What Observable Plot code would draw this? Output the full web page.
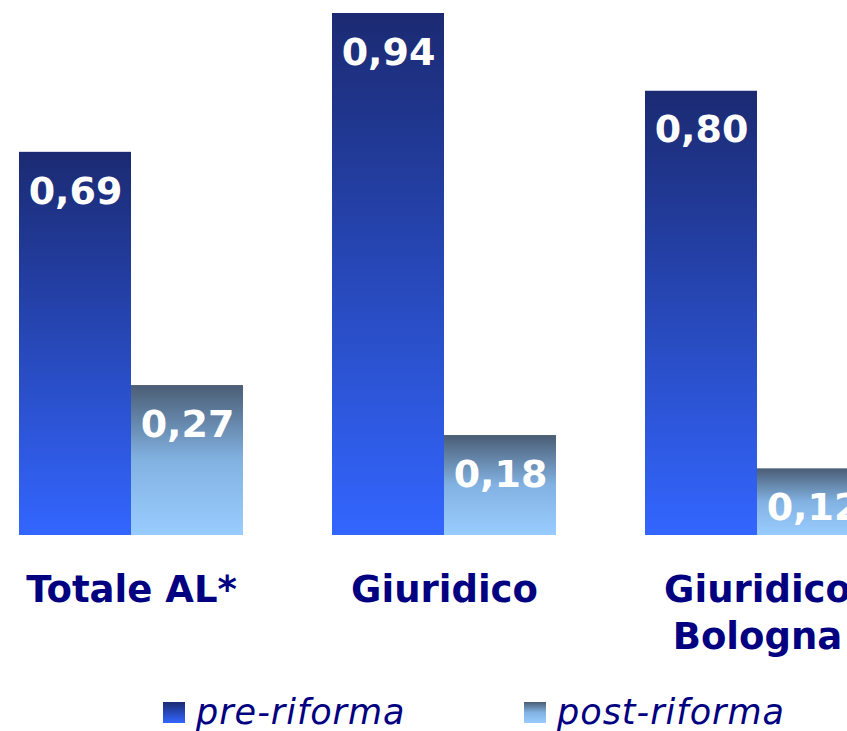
<!DOCTYPE html>
<html><head><meta charset="utf-8">
<script src="https://cdn.jsdelivr.net/npm/d3@7"></script>
<script src="https://cdn.jsdelivr.net/npm/@observablehq/plot@0.6"></script>
<style>
html,body{margin:0;padding:0;background:#fff;overflow:hidden;width:847px;height:731px;}
#chart svg{overflow:hidden;display:block;}
#legend{position:relative;height:61px;font-family:"DejaVu Sans",Verdana,sans-serif;font-style:italic;font-size:35px;letter-spacing:1px;color:#000080;}
.item{position:absolute;top:0;display:flex;align-items:center;height:40px;}
.sw{width:22px;height:21px;margin-right:11px;}
</style></head><body>
<div id="chart"></div>
<div id="legend"></div>
<script>
const categories = ["Totale AL*", "Giuridico", "Giuridico\nBologna"];
const seriesNames = ["pre-riforma", "post-riforma"];
const preValues = [0.69, 0.94, 0.80];
const postValues = [0.27, 0.18, 0.12];

const data = [];
categories.forEach((c, i) => {
  data.push({cat: c, series: seriesNames[0], value: preValues[i]});
  data.push({cat: c, series: seriesNames[1], value: postValues[i]});
});
const fmt = v => v.toFixed(2).replace(".", ",");

const W = 847, H = 670;
const plot = Plot.plot({
  width: W, height: H,
  marginTop: 0, marginLeft: 0, marginRight: 0, marginBottom: H - 535,
  style: {background: "transparent", overflow: "hidden"},
  fx: {domain: categories, range: [18, 869], paddingInner: 0.2855, paddingOuter: 0, axis: null},
  x: {domain: seriesNames, padding: 0, axis: null},
  y: {domain: [0, 0.94], range: [535, 13], axis: null},
  marks: [
    Plot.barY(data.filter(d => d.series === seriesNames[0]), {fx: "cat", x: "series", y: "value", fill: "url(#gPre)", inset: 0}),
    Plot.barY(data.filter(d => d.series === seriesNames[1]), {fx: "cat", x: "series", y: "value", fill: "url(#gPost)", inset: 0}),
    Plot.text(data, {fx: "cat", x: "series", y: "value", text: d => fmt(d.value), dy: 39,
      fill: "white", fontSize: 38, fontWeight: "bold", fontFamily: "DejaVu Sans, Verdana, sans-serif"}),
    Plot.text(categories, {fx: d => d, text: d => d, frameAnchor: "bottom", lineAnchor: "top", dy: 33,
      lineHeight: 1.27, fill: "#000080", fontSize: 37, fontWeight: "bold", fontFamily: "DejaVu Sans, Verdana, sans-serif"})
  ]
});

const svg = d3.select(plot);
const defs = svg.insert("defs", ":first-child");
const gPre = defs.append("linearGradient").attr("id", "gPre").attr("x1", 0).attr("y1", 0).attr("x2", 0).attr("y2", 1);
gPre.append("stop").attr("offset", "0%").attr("stop-color", "#1b2a72");
gPre.append("stop").attr("offset", "100%").attr("stop-color", "#3366ff");
const gPost = defs.append("linearGradient").attr("id", "gPost").attr("x1", 0).attr("y1", 0).attr("x2", 0).attr("y2", 1);
gPost.append("stop").attr("offset", "0%").attr("stop-color", "#4a5d75");
gPost.append("stop").attr("offset", "50%").attr("stop-color", "#82b2e2");
gPost.append("stop").attr("offset", "100%").attr("stop-color", "#99ccff");

document.getElementById("chart").appendChild(plot);

const legend = document.getElementById("legend");
const swatches = [
  {name: seriesNames[0], grad: "linear-gradient(#1b2a72,#3366ff)", left: 163},
  {name: seriesNames[1], grad: "linear-gradient(#4a5d75,#82b2e2 50%,#99ccff)", left: 524}
];
swatches.forEach(s => {
  const it = document.createElement("div");
  it.className = "item";
  it.style.left = s.left + "px";
  it.style.top = "22px";
  const sw = document.createElement("div");
  sw.className = "sw";
  sw.style.background = s.grad;
  const t = document.createElement("span");
  t.textContent = s.name;
  it.appendChild(sw); it.appendChild(t);
  legend.appendChild(it);
});
</script>
</body></html>
